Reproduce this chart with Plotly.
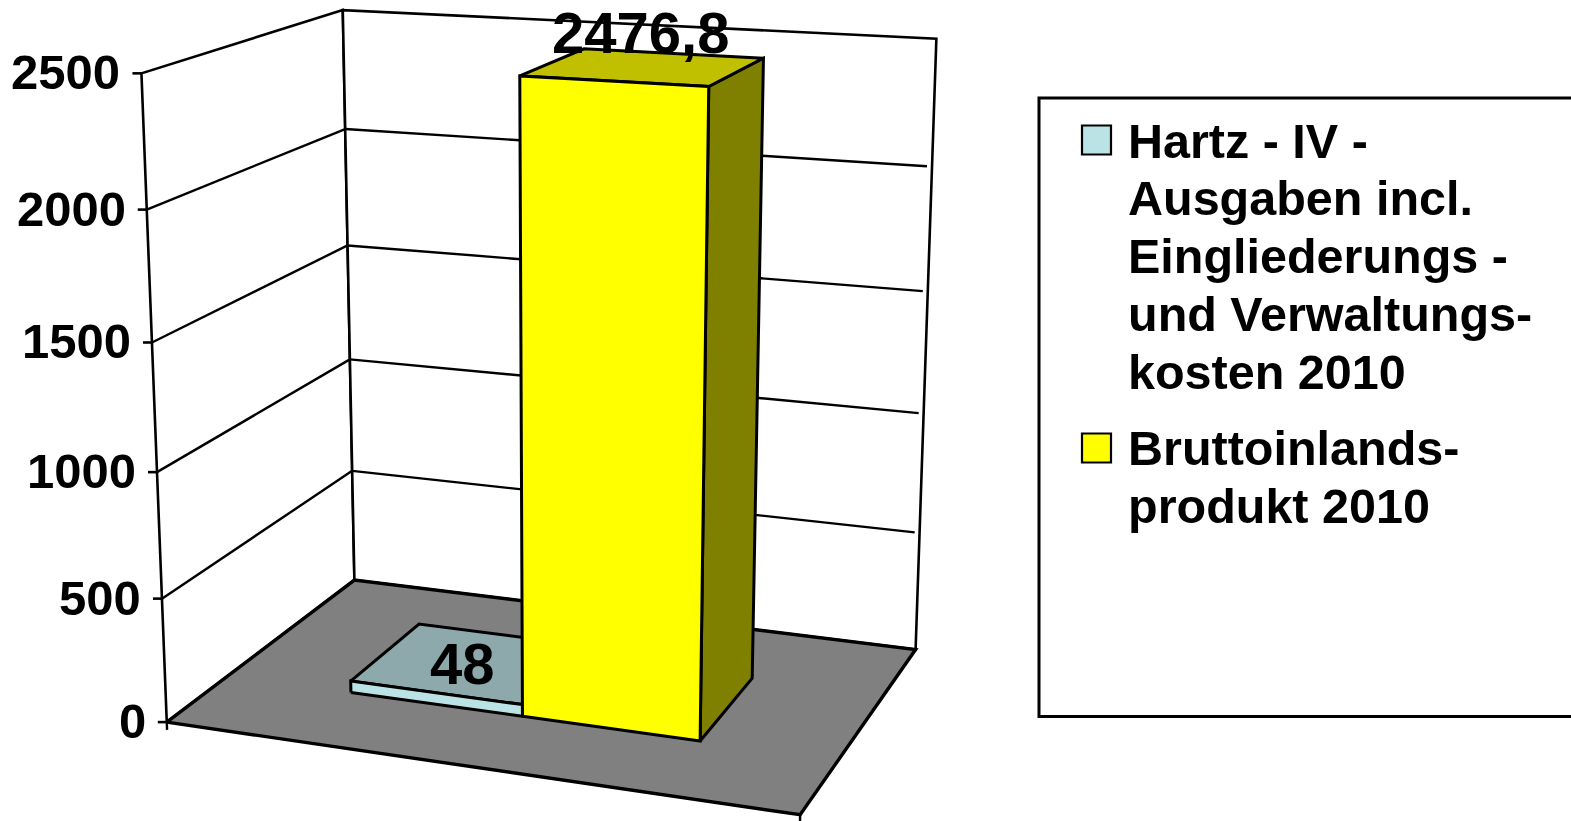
import numpy as np
import plotly.graph_objects as go

# ---- data ----
TICK_VALUES = [0, 500, 1000, 1500, 2000, 2500]
SERIES_VALUES = [48.0, 2476.8]
VALUE_LABELS = ["48", "2476,8"]
SERIES_NAMES = [
    ["Hartz - IV -", "Ausgaben incl.", "Eingliederungs -", "und Verwaltungs-", "kosten 2010"],
    ["Bruttoinlands-", "produkt 2010"],
]
Z_MAX = 2500

# ---- styles and the 3D chart box (x: category width, y: depth, both 0..1) ----
FRONT_COLORS = ["#BBE3E5", "#FFFF00"]
TOP_COLORS = ["#8DA9AB", "#C0BF00"]
SIDE_COLORS = ["#5E7273", "#808000"]
FLOOR_COLOR = "#808080"
BAR_EDGES_X = [0.214, 0.502, 0.787]
BAR_DEPTH = [0.299, 0.692]
FONT = "Liberation Sans"
W, H = 1571, 821

# perspective camera of the chart box, as a projection matrix
CAMERA = np.array([
    [569.906966, 238.990071, -33.777937, 166.772478],
    [28.000219, -58.015680, -653.142673, 722.108361],
    [-0.079334, 0.144941, -0.059709, 1.000000],
])


def project(x, y, value):
    q = CAMERA @ np.array([x, y, value / Z_MAX, 1.0])
    return q[:2] / q[2]


fig = go.Figure()


def polygon(corners, fill, width=3.0):
    c = np.array(list(corners) + [corners[0]])
    fig.add_trace(go.Scatter(x=c[:, 0], y=c[:, 1], mode="lines", fill="toself", fillcolor=fill,
                             line=dict(color="black", width=width), hoverinfo="skip"))


def segment(a, b, width=2.4):
    fig.add_trace(go.Scatter(x=[a[0], b[0]], y=[a[1], b[1]], mode="lines",
                             line=dict(color="black", width=width), hoverinfo="skip"))


# walls
polygon([project(0, 0, 0), project(0, 1, 0), project(0, 1, Z_MAX), project(0, 0, Z_MAX)], "white", 2.6)
polygon([project(0, 1, 0), project(1, 1, 0), project(1, 1, Z_MAX), project(0, 1, Z_MAX)], "white", 2.6)

# gridlines, ticks and tick labels from the value axis
annotations = []
for v in TICK_VALUES:
    left = project(0, 0, v)
    if 0 < v < Z_MAX:
        segment(left, project(0, 1, v))
        segment(project(0, 1, v), project(0.992, 1, v))
    segment(left, left - np.array([9.0, 0.0]), 2.6)
    annotations.append(dict(x=left[0] - 19, y=left[1], xref="x", yref="y", text=str(v), showarrow=False,
                            xanchor="right", yanchor="middle", yshift=1,
                            font=dict(family=FONT, size=49, color="black", weight="bold")))

# floor with its two category ticks
polygon([project(0, 0, 0), project(1, 0, 0), project(1, 1, 0), project(0, 1, 0)], FLOOR_COLOR, 3.4)
segment(project(0, 0, 0), project(0, 0, -32))
segment(project(1, 0, 0), project(1, 0, -32))

# bars
y0, y1 = BAR_DEPTH
for i, value in enumerate(SERIES_VALUES):
    x0, x1 = BAR_EDGES_X[i], BAR_EDGES_X[i + 1]
    polygon([project(x1, y0, 0), project(x1, y1, 0), project(x1, y1, value), project(x1, y0, value)], SIDE_COLORS[i])
    polygon([project(x0, y0, value), project(x1, y0, value), project(x1, y1, value), project(x0, y1, value)], TOP_COLORS[i])
    polygon([project(x0, y0, 0), project(x1, y0, 0), project(x1, y0, value), project(x0, y0, value)], FRONT_COLORS[i])

# value labels
LABEL_OFFSETS = [(-6, 1), (-3, -34)]
for i, value in enumerate(SERIES_VALUES):
    c = project((BAR_EDGES_X[i] + BAR_EDGES_X[i + 1]) / 2, (y0 + y1) / 2, value)
    annotations.append(dict(x=c[0], y=c[1], xref="x", yref="y", text=VALUE_LABELS[i], showarrow=False,
                            xanchor="center", yanchor="middle",
                            xshift=LABEL_OFFSETS[i][0], yshift=-LABEL_OFFSETS[i][1],
                            font=dict(family=FONT, size=58, color="black", weight="bold")))

# legend
shapes = [dict(type="rect", xref="x", yref="y", x0=1039, y0=98, x1=1600, y1=716.5,
               line=dict(color="black", width=3), fillcolor="white", layer="above")]
LEGEND_MARKER_Y = [140, 448]
LEGEND_FIRST_LINE_Y = [140.5, 448]
LEGEND_LINE_STEP = 57.75
for i, lines in enumerate(SERIES_NAMES):
    shapes.append(dict(type="rect", xref="x", yref="y", x0=1082, x1=1111,
                       y0=LEGEND_MARKER_Y[i] - 14.5, y1=LEGEND_MARKER_Y[i] + 14.5,
                       line=dict(color="black", width=2.2), fillcolor=FRONT_COLORS[i], layer="above"))
    for j, line in enumerate(lines):
        annotations.append(dict(x=1126, y=LEGEND_FIRST_LINE_Y[i] + j * LEGEND_LINE_STEP, xref="x", yref="y", text=line,
                                showarrow=False, xanchor="left", yanchor="middle", align="left",
                                font=dict(family=FONT, size=48.5, color="black", weight="bold")))

fig.update_layout(width=W, height=H, margin=dict(l=0, r=0, t=0, b=0), showlegend=False,
                  paper_bgcolor="white", plot_bgcolor="white", hovermode=False,
                  xaxis=dict(range=[0, W], visible=False, fixedrange=True),
                  yaxis=dict(range=[H, 0], visible=False, fixedrange=True),
                  annotations=annotations, shapes=shapes)
fig.write_html("out.html", config={"displayModeBar": False},
               post_script="document.body.style.margin='0';document.body.style.overflow='hidden';")
